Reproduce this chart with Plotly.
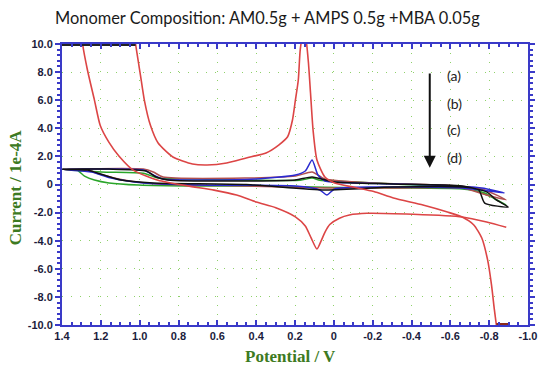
import plotly.graph_objects as go

# ---------------- data (Potential V, Current 1e-4 A) ----------------
red_b1_v = [1.297, 1.294, 1.269, 1.233, 1.203, 1.158, 1.107, 1.031, 0.905, 0.754, 0.617, 0.501, 0.400, 0.299,
            0.198, 0.147, 0.117, 0.087, 0.062, 0.046, 0.021, -0.029, -0.080, -0.171, -0.408, -0.661,
            -0.787, -0.888]
red_b1_i = [10.4, 10.0, 8.15, 6.01, 4.2, 3.0, 2.03, 1.0, 0.3, -0.1, -0.4, -0.75, -1.25, -1.65,
            -2.3, -2.95, -3.8, -4.59, -3.9, -3.4, -2.85, -2.4, -2.17, -2.05, -2.12, -2.31,
            -2.67, -3.05]

red_b2_v = [1.024, 1.021, 0.996, 0.976, 0.945, 0.905, 0.829, 0.728, 0.653, 0.552, 0.451, 0.349, 0.284, 0.238,
            0.213, 0.198, 0.183, 0.173, 0.160, 0.148, 0.132, 0.120, 0.107, 0.087, 0.046, -0.004,
            -0.105, -0.206, -0.307, -0.459, -0.585, -0.661, -0.721, -0.762, -0.792, -0.812, -0.827,
            -0.837, -0.840]
red_b2_i = [10.4, 10.0, 7.79, 6.01, 4.23, 2.95, 1.96, 1.46, 1.39, 1.53, 1.89, 2.25, 2.81, 3.4,
            4.59, 6.0, 7.44, 9.6, 10.6, 10.6, 8.86, 6.5, 3.88, 1.74, 0.53, 0.11,
            -0.2, -0.5, -0.96, -1.46, -1.96, -2.31, -2.88, -3.81, -5.37, -7.15, -8.93,
            -10.0, -10.4]

green_v = [1.400, 1.324, 1.284, 1.233, 1.158, 1.006, 0.703, 0.299, 0.046, -0.307, -0.661, -0.777, -0.837, -0.888,
           -0.812, -0.711, -0.509, -0.206, -0.004, 0.072, 0.112, 0.173, 0.400, 0.703, 0.905, 0.981, 1.198, 1.400]
green_i = [1.08, 1.03, 0.60, 0.32, 0.11, -0.04, -0.11, -0.11, -0.2, -0.25, -0.32, -0.60, -1.10, -1.46,
           -0.9, -0.4, -0.11, 0.11, 0.25, 0.30, 0.46, 0.30, 0.30, 0.39, 0.46, 0.80, 0.89, 1.08]

blue_v = [1.400, 1.248, 1.147, 0.981, 0.703, 0.198, 0.072, 0.036, -0.004, -0.206, -0.661, -0.878,
          -0.762, -0.509, -0.105, 0.046, 0.082, 0.112, 0.147, 0.198, 0.400, 0.703, 0.880, 0.930, 0.981,
          1.208, 1.400]
blue_i = [1.08, 0.89, 0.46, 0.11, -0.04, -0.11, -0.39, -0.75, -0.32, -0.18, -0.25, -0.60,
          -0.25, -0.04, 0.11, 0.25, 0.68, 1.74, 0.96, 0.68, 0.39, 0.32, 0.39, 0.68, 1.03,
          1.10, 1.08]

maroon_v = [1.400, 1.269, 1.208, 1.082, 0.905, 0.451, 0.046, -0.307, -0.661, -0.787, -0.888,
            -0.762, -0.560, -0.206, 0.046, 0.112, 0.198, 0.451, 0.880, 0.930, 0.981, 1.400]
maroon_i = [1.08, 1.03, 0.75, 0.32, 0.04, -0.11, -0.25, -0.25, -0.25, -0.75, -1.10,
            -0.32, -0.04, 0.11, 0.39, 0.89, 0.60, 0.46, 0.53, 0.89, 1.10, 1.08]

black_v = [1.400, 1.269, 1.218, 1.097, 0.930, 0.451, 0.046, -0.307, -0.661, -0.746, -0.777, -0.898,
           -0.837, -0.787, -0.661, -0.307, -0.004, 0.112, 0.198, 0.451, 0.855, 0.915, 0.966, 1.158, 1.400]
black_i = [1.08, 1.03, 0.82, 0.32, 0.11, 0.0, -0.39, -0.18, -0.18, -0.39, -1.32, -1.60,
           -1.10, -0.53, -0.11, 0.04, 0.18, 0.53, 0.32, 0.25, 0.32, 0.53, 0.96, 1.10, 1.08]

overload_top_v = [1.400, 1.021]
overload_top_i = [9.93, 9.93]
overload_bot_v = [-0.837, -0.898]
overload_bot_i = [-9.93, -9.93]

x_ticks = [1.4, 1.2, 1.0, 0.8, 0.6, 0.4, 0.2, 0.0, -0.2, -0.4, -0.6, -0.8, -1.0]
x_labels = ["1.4", "1.2", "1.0", "0.8", "0.6", "0.4", "0.2", "0", "-0.2", "-0.4", "-0.6", "-0.8", "-1.0"]
y_ticks = [10, 8, 6, 4, 2, 0, -2, -4, -6, -8, -10]
y_labels = ["10.0", "8.0", "6.0", "4.0", "2.0", "0", "-2.0", "-4.0", "-6.0", "-8.0", "-10.0"]

labels = ["(a)", "(b)", "(c)", "(d)"]
label_y = [7.79, 5.8, 3.88, 1.89]

# ---------------- figure ----------------
RED = "#dc4545"
fig = go.Figure()

def add(v, i, color, w=1.5, shape="spline"):
    fig.add_trace(go.Scatter(x=v, y=i, mode="lines",
                             line=dict(color=color, width=w, shape=shape, smoothing=0.6),
                             showlegend=False, hoverinfo="skip"))

add(green_v, green_i, "#2aa52a")
add(maroon_v, maroon_i, "#b05050")
add(blue_v, blue_i, "#2a2ad0")
add(black_v, black_i, "#111111")
add(red_b1_v, red_b1_i, RED, 1.6)
add(red_b2_v, red_b2_i, RED, 1.6)
add(overload_top_v, overload_top_i, "#222222", 2, "linear")
add(overload_bot_v, overload_bot_i, "#8b2a1a", 2, "linear")

axis_common = dict(
    showline=True, linecolor="#3a3ac8", linewidth=2, mirror="allticks",
    showgrid=True, gridcolor="#8fd16a", gridwidth=1, griddash="1px,8px",
    zeroline=False, tickcolor="#3a3ac8", ticklen=5, tickwidth=1.5,
    tickfont=dict(family="Liberation Sans", size=11, color="#1c1c3c", weight="bold"),
)

fig.update_xaxes(range=[1.4, -1.0], tickvals=x_ticks, ticktext=x_labels, ticks="inside",
                 minor=dict(dtick=0.05, ticks="inside", ticklen=3, tickcolor="#3a3ac8", showgrid=False),
                 **axis_common)
fig.update_yaxes(range=[-10, 10], tickvals=y_ticks, ticktext=y_labels, ticks="outside",
                 minor=dict(dtick=0.4, ticks="outside", ticklen=3, tickcolor="#3a3ac8", showgrid=False),
                 **axis_common)

ann = []
ann.append(dict(xref="paper", yref="paper", x=0.44, y=1.0, yshift=27, showarrow=False,
                text="Monomer Composition: AM0.5g + AMPS 0.5g +MBA 0.05g",
                font=dict(family="Lato", size=16.4, color="#1a1a1a"), xanchor="center", yanchor="middle"))
ann.append(dict(xref="paper", yref="paper", x=0.0, y=0.49, xshift=-47, showarrow=False,
                text="<b>Current / 1e-4A</b>", textangle=-90,
                font=dict(family="Liberation Serif", size=17, color="#3d7a22"),
                xanchor="center", yanchor="middle"))
ann.append(dict(xref="paper", yref="paper", x=0.49, y=0.0, yshift=-31, showarrow=False,
                text="<b>Potential / V</b>",
                font=dict(family="Liberation Serif", size=17, color="#3d7a22"),
                xanchor="center", yanchor="middle"))
for t, yv in zip(labels, label_y):
    ann.append(dict(x=-0.570, y=yv, xref="x", yref="y", showarrow=False, text=t, xanchor="left",
                    font=dict(family="Lato", size=14, color="#222222")))
ann.append(dict(x=-0.494, y=1.2, ax=-0.494, ay=8.0, xref="x", yref="y", axref="x", ayref="y",
                showarrow=True, arrowhead=2, arrowsize=1.2, arrowwidth=2, arrowcolor="#111111", text=""))

fig.update_layout(
    width=546, height=368,
    margin=dict(l=62, r=9, t=44, b=43),
    paper_bgcolor="white", plot_bgcolor="white",
    annotations=ann,
)

fig.write_html("out.html")
